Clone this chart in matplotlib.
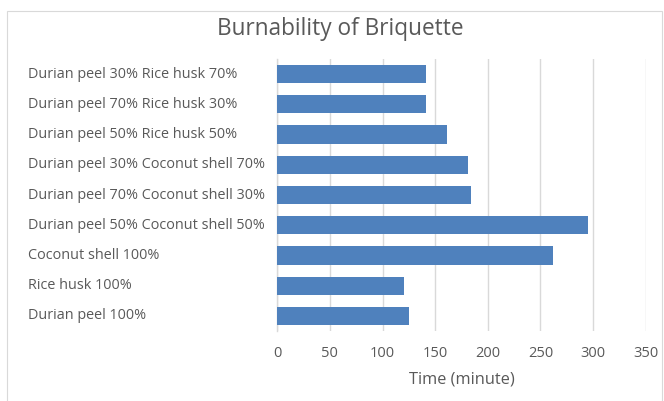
import matplotlib
matplotlib.use("Agg")
import matplotlib.pyplot as plt
import matplotlib.transforms as mtransforms
from matplotlib.patches import Rectangle

categories = [
    "Durian peel 30% Rice husk 70%",
    "Durian peel 70% Rice husk 30%",
    "Durian peel 50% Rice husk 50%",
    "Durian peel 30% Coconut shell 70%",
    "Durian peel 70% Coconut shell 30%",
    "Durian peel 50% Coconut shell 50%",
    "Coconut shell 100%",
    "Rice husk 100%",
    "Durian peel 100%",
]
values = [141, 141, 161, 181, 184, 295, 262, 120, 125]
xticks = [0, 50, 100, 150, 200, 250, 300, 350]

plt.rcParams['font.family'] = ['Open Sans', 'DejaVu Sans']
text_color = "#595959"

W, H = 664, 401
fig = plt.figure(figsize=(W / 100, H / 100), dpi=100)

# outer chart border
fig.patches.append(Rectangle((7 / W, -0.01), (662 - 7) / W, (H - 11) / H + 0.01,
                             transform=fig.transFigure, fill=False,
                             edgecolor="#D9D9D9", linewidth=0.8))

left, right = 277.3 / W, 645.7 / W
top_px, bot_px = 59, 331
ax = fig.add_axes([left, (H - bot_px) / H, right - left, (bot_px - top_px) / H])

y = list(range(len(categories)))
ax.barh(y, values, height=0.6, color="#4F81BD", zorder=3)
ax.set_ylim(len(categories) - 0.5, -0.5)
ax.set_xlim(0, 350)
ax.set_xticks(xticks)
ax.set_xticklabels([str(t) for t in xticks], fontsize=10.5, color=text_color)
ax.tick_params(axis='x', length=0, pad=11)
ax.set_yticks([])
ax.grid(axis='x', color="#D9D9D9", linewidth=1, zorder=0)
for s in ["top", "right", "bottom"]:
    ax.spines[s].set_visible(False)
ax.spines["left"].set_color("#D9D9D9")
ax.spines["left"].set_linewidth(1)

trans = mtransforms.blended_transform_factory(fig.transFigure, ax.transData)
for yi, c in zip(y, categories):
    ax.text(28 / W, yi, c, transform=trans, ha='left', va='center',
            fontsize=10.4, color=text_color)

ax.set_xlabel("Time (minute)", fontsize=11.8, color=text_color, labelpad=7)
fig.text(340 / W, 1 - 29 / H, "Burnability of Briquette", ha='center', va='center',
         fontsize=16.3, color=text_color)

fig.savefig("out.png", dpi=100)
